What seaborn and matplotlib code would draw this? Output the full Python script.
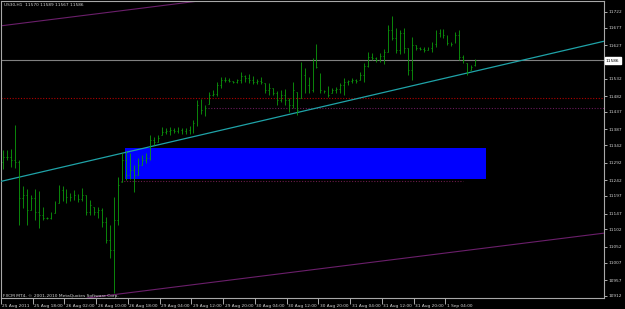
import matplotlib
matplotlib.use("Agg")
import matplotlib.pyplot as plt
from matplotlib.patches import Rectangle
import matplotlib.transforms as mtransforms
import numpy as np
import pandas as pd
import seaborn as sns

W, H = 625, 309

# ---------------- data (US30, H1) ----------------
opens = [11294, 11308, 11308, 11300, 11294, 11191, 11200, 11157, 11191, 11151,
         11143, 11134, 11134, 11149, 11177, 11214, 11200, 11194, 11194, 11200,
         11188, 11200, 11151, 11166, 11151, 11157, 11123, 11072, 11043, 11129,
         11237, 11300, 11257, 11271, 11257, 11285, 11300, 11305, 11357, 11351,
         11371, 11380, 11382, 11385, 11382, 11385, 11382, 11385, 11391, 11405,
         11457, 11442, 11459, 11485, 11488, 11514, 11528, 11528, 11525, 11522,
         11528, 11539, 11534, 11528, 11522, 11525, 11519, 11499, 11505, 11491,
         11471, 11485, 11471, 11457, 11494, 11476, 11542, 11514, 11499, 11579,
         11548, 11499, 11496, 11491, 11499, 11502, 11514, 11522, 11525, 11528,
         11528, 11542, 11568, 11593, 11591, 11585, 11596, 11608, 11670, 11648,
         11613, 11662, 11619, 11556, 11628, 11619, 11616, 11613, 11619, 11631,
         11662, 11665, 11656, 11633, 11633, 11656, 11593, 11576, 11556, 11570]
highs = [11328, 11328, 11331, 11400, 11300, 11225, 11217, 11200, 11217, 11211,
         11166, 11137, 11151, 11183, 11228, 11225, 11217, 11206, 11214, 11203,
         11220, 11200, 11186, 11166, 11166, 11163, 11137, 11114, 11194, 11251,
         11320, 11325, 11320, 11285, 11305, 11314, 11320, 11371, 11365, 11371,
         11394, 11391, 11394, 11391, 11394, 11391, 11391, 11397, 11414, 11471,
         11474, 11457, 11494, 11499, 11522, 11536, 11536, 11534, 11525, 11531,
         11551, 11542, 11545, 11539, 11531, 11536, 11519, 11519, 11505, 11496,
         11499, 11502, 11476, 11522, 11494, 11579, 11562, 11536, 11591, 11631,
         11548, 11499, 11511, 11505, 11508, 11519, 11534, 11528, 11534, 11531,
         11551, 11576, 11608, 11605, 11593, 11605, 11616, 11685, 11710, 11676,
         11670, 11676, 11619, 11650, 11628, 11622, 11622, 11622, 11636, 11670,
         11673, 11673, 11656, 11636, 11665, 11670, 11599, 11576, 11571, 11589]
lows = [11274, 11300, 11280, 11277, 11114, 11163, 11114, 11157, 11129, 11106,
        11129, 11131, 11131, 11149, 11177, 11183, 11177, 11183, 11186, 11180,
        11183, 11143, 11143, 11143, 11134, 11109, 11063, 11020, 10920, 11114,
        11237, 11243, 11245, 11208, 11257, 11285, 11291, 11300, 11342, 11351,
        11371, 11374, 11371, 11377, 11377, 11374, 11374, 11374, 11377, 11397,
        11431, 11425, 11459, 11482, 11482, 11505, 11522, 11522, 11519, 11519,
        11519, 11522, 11519, 11516, 11516, 11516, 11491, 11485, 11485, 11457,
        11465, 11457, 11437, 11448, 11428, 11476, 11491, 11491, 11494, 11562,
        11491, 11491, 11479, 11491, 11491, 11491, 11485, 11514, 11519, 11519,
        11528, 11522, 11565, 11585, 11579, 11579, 11573, 11608, 11642, 11605,
        11602, 11605, 11542, 11528, 11613, 11613, 11608, 11613, 11608, 11622,
        11650, 11648, 11628, 11625, 11633, 11585, 11576, 11542, 11556, 11567]
closes = [11308, 11308, 11300, 11294, 11191, 11200, 11157, 11191, 11151, 11143,
          11134, 11134, 11146, 11177, 11214, 11200, 11194, 11194, 11200, 11188,
          11200, 11151, 11171, 11151, 11157, 11123, 11072, 11043, 11129, 11228,
          11300, 11257, 11271, 11257, 11285, 11300, 11305, 11357, 11351, 11362,
          11380, 11382, 11385, 11382, 11385, 11382, 11385, 11391, 11405, 11457,
          11442, 11448, 11485, 11488, 11514, 11528, 11528, 11525, 11522, 11528,
          11539, 11534, 11528, 11522, 11525, 11522, 11499, 11505, 11491, 11471,
          11485, 11471, 11457, 11499, 11442, 11542, 11514, 11499, 11579, 11565,
          11499, 11496, 11485, 11499, 11502, 11514, 11522, 11525, 11528, 11525,
          11542, 11568, 11593, 11591, 11585, 11596, 11608, 11670, 11648, 11613,
          11662, 11619, 11556, 11628, 11619, 11616, 11613, 11619, 11631, 11662,
          11665, 11656, 11633, 11631, 11656, 11593, 11585, 11551, 11565, 11586]

x_tick_bars = [0, 8, 16, 24, 32, 40, 48, 56, 64, 72, 80, 88, 96, 104, 112]
x_tick_labels = ["25 Aug 2011", "25 Aug 18:00", "26 Aug 02:00", "26 Aug 10:00",
                 "26 Aug 18:00", "29 Aug 04:00", "29 Aug 12:00", "29 Aug 20:00",
                 "30 Aug 04:00", "30 Aug 12:00", "30 Aug 20:00", "31 Aug 04:00",
                 "31 Aug 12:00", "31 Aug 20:00", "1 Sep 04:00"]
y_ticks = [11722, 11677, 11627, 11577, 11532, 11482, 11437, 11387, 11342,
           11292, 11242, 11197, 11147, 11102, 11052, 11007, 10957, 10912]

bid_price = 11586
red_level = 11476
purple_level_hi = 11448
purple_level_hi_start = 51.6
purple_level_lo = 11240
purple_level_lo_span = [29.7, 115.8]
zone_bars = [30.8, 121.8]
zone_prices = [11244.6, 11333.0]
trend_pts = [(0, 11240), (119, 11553)]
channel_top_pts = [(0, 11683), (100, 11825)]
channel_bot_pts = [(0, 10876), (119, 11045)]

header = "US30,H1  11570 11589 11567 11586"
footer = "FXCM MT4, \u00a9 2001-2010 MetaQuotes Software Corp."

# ---------------- style ----------------
sns.set_theme(style="dark", rc={
    "axes.facecolor": "#000000",
    "figure.facecolor": "#000000",
    "axes.edgecolor": "#a8a8a8",
    "xtick.color": "#c8c8c8",
    "ytick.color": "#c8c8c8",
})
plt.rcParams["font.family"] = ["DejaVu Sans"]

FS = 3.1
TXT = "#d4d4d4"
GREEN = "#0c9c0c"

df = pd.DataFrame({"bar": np.arange(len(opens)), "open": opens, "high": highs,
                   "low": lows, "close": closes})

fig = plt.figure(figsize=(W / 100, H / 100), dpi=100)
ax = fig.add_axes([1 / W, 11 / H, 603 / W, 297 / H])

pxb = 3.975
xmin = -1 / pxb
xmax = xmin + 603 / pxb
ax.set_xlim(xmin, xmax)
ax.set_ylim(10906.1, 11753.1)

# zone rectangle
ax.add_patch(Rectangle((zone_bars[0], zone_prices[0]), zone_bars[1] - zone_bars[0],
                       zone_prices[1] - zone_prices[0], facecolor="#0000ff",
                       edgecolor="none", zorder=1))

# horizontal levels
ax.axhline(bid_price, color="#808080", lw=0.8, zorder=1.5)
ax.axhline(red_level, color="#b00000", lw=0.8, ls=(0, (1, 1.5)), zorder=1.5)
ax.hlines(purple_level_hi, purple_level_hi_start, xmax, color="#6a1a5a", lw=0.8,
          ls=(0, (1, 1.5)), zorder=1.5)
ax.hlines(purple_level_lo, purple_level_lo_span[0], purple_level_lo_span[1],
          color="#6a1a4a", lw=0.8, ls=(0, (1, 1.5)), zorder=1.5)

# channel and trend lines
ax.axline(channel_top_pts[0], channel_top_pts[1], color="#6b1f6b", lw=0.8, zorder=2)
ax.axline(channel_bot_pts[0], channel_bot_pts[1], color="#6b1f6b", lw=0.8, zorder=2)
ax.axline(trend_pts[0], trend_pts[1], color="#1fa3a8", lw=0.9, zorder=3)

# OHLC bars
LW = 0.6
ax.vlines(df["bar"], df["low"], df["high"], color=GREEN, lw=LW, zorder=4)
ax.hlines(df["open"], df["bar"] - 0.22, df["bar"], color=GREEN, lw=LW, zorder=4)
ax.hlines(df["close"], df["bar"], df["bar"] + 0.22, color=GREEN, lw=LW, zorder=4)

# axes styling
for s in ax.spines.values():
    s.set_color("#a8a8a8")
    s.set_linewidth(0.8)
ax.grid(False)
ax.yaxis.tick_right()
ax.set_yticks(y_ticks)
# the 11577 label sits under the bid-price box in the reference
ax.set_yticklabels(["" if v == 11577 else str(v) for v in y_ticks])
ax.tick_params(axis="y", right=True, left=False, length=2, width=0.6, pad=1,
               labelsize=FS, labelcolor=TXT, color="#c8c8c8")
ax.set_xticks(np.array(x_tick_bars) - 0.5)
ax.set_xticklabels(x_tick_labels, ha="left")
ax.tick_params(axis="x", bottom=True, length=4, width=0.6, pad=0.5,
               labelsize=FS, labelcolor=TXT, color="#c8c8c8")
shift = mtransforms.ScaledTranslation(1.5 / 100, 0, fig.dpi_scale_trans)
for lab in ax.get_xticklabels():
    lab.set_transform(lab.get_transform() + shift)

# texts
fig.text(4 / W, 1 - 5 / H, header, color=TXT, fontsize=FS, va="center", ha="left")
fig.text(3 / W, 1 - 295.5 / H, footer, color=TXT, fontsize=3.2, va="center", ha="left")
fig.text(606 / W, 1 - 60.5 / H, str(bid_price), color="#000000", fontsize=FS,
         va="center", ha="left",
         bbox=dict(boxstyle="square,pad=0.3", facecolor="#ffffff", edgecolor="#ffffff"))

fig.savefig("out.png", dpi=100, facecolor="#000000")
